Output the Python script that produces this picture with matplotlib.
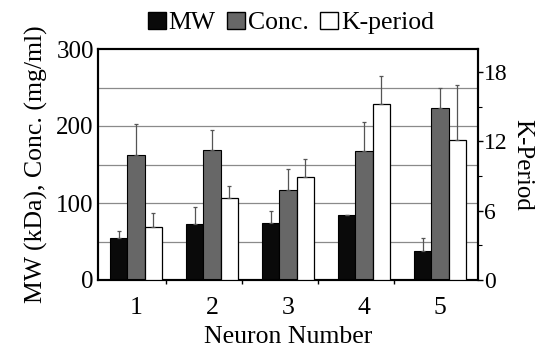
import matplotlib
matplotlib.use("Agg")
import matplotlib.pyplot as plt
import numpy as np
from matplotlib.patches import Patch

neurons = ["1", "2", "3", "4", "5"]
mw = [54, 73, 74, 84, 38]
mw_err = [10, 22, 15, 0, 17]
conc = [162, 169, 117, 167, 224]
conc_err = [41, 26, 27, 38, 25]
kper = [4.6, 7.1, 8.9, 15.2, 12.1]
kper_err = [1.2, 1.0, 1.6, 2.5, 4.8]

plt.rcParams['font.family'] = ['Liberation Serif', 'DejaVu Serif']

fig = plt.figure(figsize=(5.38, 3.47), dpi=100)
ax = fig.add_axes([98/538, 1-280/347, (478-98)/538, (280-49)/347])
ax2 = ax.twinx()

x = np.arange(1, len(neurons)+1)
w = 0.224
ecol = '#555555'
ekw = dict(ecolor=ecol, elinewidth=0.9, capsize=1.5, capthick=0.9)
ax.bar(x - w, mw, w, color='#0a0a0a', edgecolor='black', linewidth=0.8, zorder=3,
       yerr=[np.zeros(len(mw)), mw_err], error_kw=ekw, label='MW')
ax.bar(x, conc, w, color='#676767', edgecolor='black', linewidth=0.8, zorder=3,
       yerr=[np.zeros(len(conc)), conc_err], error_kw=ekw, label='Conc.')
ax2.bar(x + w, kper, w, color='white', edgecolor='black', linewidth=0.9, zorder=3,
        yerr=[np.zeros(len(kper)), kper_err], error_kw=ekw, label='K-period')

ax.set_xlim(0.5, 5.5)
ax.set_ylim(0, 300)
ax2.set_ylim(0, 20)

for g in [50, 100, 150, 200, 250]:
    ax.axhline(g, color='#8a8a8a', lw=0.9, zorder=1)

ax.set_yticks([0, 100, 200, 300])
ax.tick_params(axis='y', labelsize=18, length=0, pad=3)
ax2.set_yticks([0, 6, 12, 18])
ax2.set_yticks([3, 9, 15], minor=True)
ax2.tick_params(axis='y', which='major', labelsize=17, length=3.5, width=1, pad=1)
ax2.tick_params(axis='y', which='minor', length=3, width=0.8)

ax.set_xticks(x)
ax.set_xticklabels(neurons)
ax.tick_params(axis='x', which='major', labelsize=18.5, length=0, pad=12)
ax.set_xticks([1.4, 2.4, 3.4, 4.4], minor=True)
ax.tick_params(axis='x', which='minor', length=3, width=1, direction='out')

for sp in ax.spines.values():
    sp.set_linewidth(1.5)
for sp in ax2.spines.values():
    sp.set_linewidth(1.5)

ax.set_xlabel('Neuron Number', fontsize=18.5, labelpad=5)
ax.set_ylabel('MW (kDa), Conc. (mg/ml)', fontsize=18.5, labelpad=6)
ax2.set_ylabel('K-Period', fontsize=18, rotation=270, labelpad=18)

handles = [Patch(facecolor='#0a0a0a', edgecolor='black', label='MW'),
           Patch(facecolor='#676767', edgecolor='black', label='Conc.'),
           Patch(facecolor='white', edgecolor='black', label='K-period')]
fig.legend(handles=handles, loc='center', bbox_to_anchor=(0.541, 1-23/347), ncol=3,
           frameon=False, fontsize=18.5, handlelength=0.7, handleheight=0.7,
           handletextpad=0.1, columnspacing=0.45, borderaxespad=0, borderpad=0)

fig.savefig('out.png', dpi=100)
